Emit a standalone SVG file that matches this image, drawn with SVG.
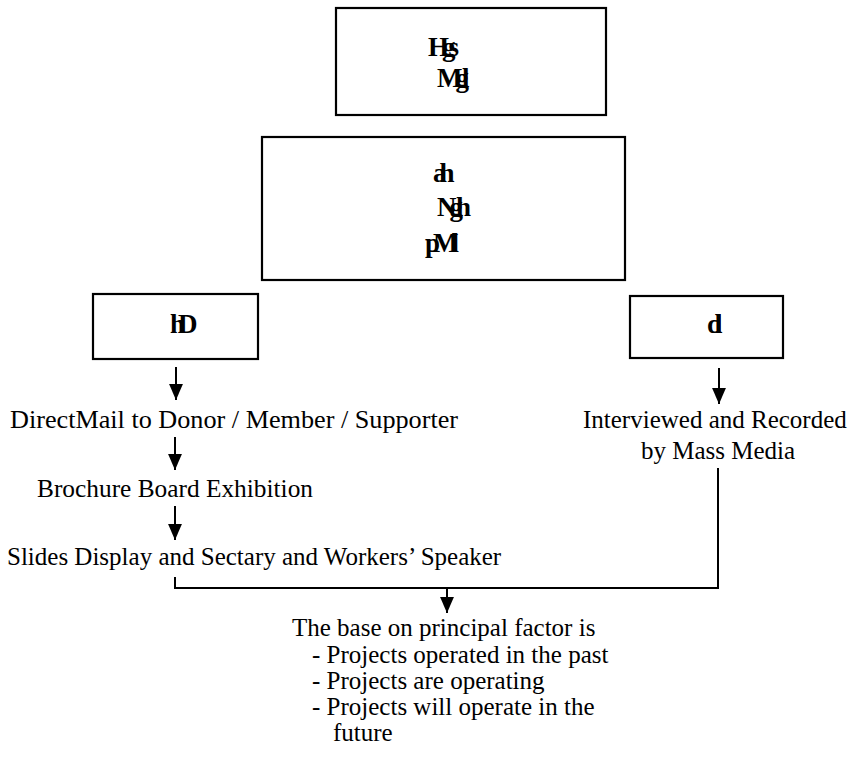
<svg xmlns="http://www.w3.org/2000/svg" width="857" height="773" viewBox="0 0 857 773">
<style>
.box{fill:#fff;stroke:#000;stroke-width:2.2}
.t{font-family:"Liberation Serif","Times New Roman",serif;font-size:25px;fill:#000}
.g{font-family:"Liberation Serif","Times New Roman",serif;font-weight:bold;font-size:27px;fill:#000;letter-spacing:-7px}
.c{fill:none;stroke:#000;stroke-width:2}
</style>
<defs>
<marker id="ah" markerUnits="userSpaceOnUse" markerWidth="16" markerHeight="14" refX="15" refY="6.5" orient="auto" viewBox="0 0 15 13">
<path d="M0 0 L15 6.5 L0 13 Z" fill="#000"/>
</marker>
</defs>
<rect width="857" height="773" fill="#fff"/>
<g id="n1"><rect class="box" x="336" y="8" width="270" height="107"/>
<text class="g" x="428" y="56">Hgs</text><text class="g" x="437" y="87">Mgl</text></g>
<g id="n2"><rect class="box" x="262" y="137" width="363" height="143"/>
<text class="g" x="433" y="182">ah</text><text class="g" x="437" y="216">Ngh</text><text class="g" x="425" y="252">pMl</text></g>
<g id="n3"><rect class="box" x="93" y="294" width="165" height="65"/>
<text class="g" x="170" y="333">hD</text></g>
<g id="n4"><rect class="box" x="630" y="296" width="153" height="62"/>
<text class="g" x="707" y="333">dl</text></g>
<g id="t1"><text class="t" x="10" y="428" textLength="448" lengthAdjust="spacingAndGlyphs">DirectMail to Donor / Member / Supporter</text></g>
<g id="t2"><text class="t" x="37" y="497" textLength="276" lengthAdjust="spacingAndGlyphs">Brochure Board Exhibition</text></g>
<g id="t3"><text class="t" x="7" y="565">Slides Display and Sectary and Workers’ Speaker</text></g>
<g id="t4"><text class="t" x="583" y="428">Interviewed and Recorded</text><text class="t" x="718" y="459" text-anchor="middle">by Mass Media</text></g>
<g id="t5"><text class="t" x="292" y="636">The base on principal factor is</text>
<text class="t" x="312" y="663">- Projects operated in the past</text>
<text class="t" x="312" y="689">- Projects are operating</text>
<text class="t" x="312" y="715">- Projects will operate in the</text>
<text class="t" x="333" y="741">future</text></g>
<g id="connectors">
<path class="c" d="M176 367 V400" marker-end="url(#ah)"/>
<path class="c" d="M175 437 V470" marker-end="url(#ah)"/>
<path class="c" d="M175 506 V540" marker-end="url(#ah)"/>
<path class="c" d="M719 368 V404" marker-end="url(#ah)"/>
<path class="c" d="M175 577 V588 H718 V468"/>
<path class="c" d="M447 588 V613" marker-end="url(#ah)"/>
</g>
</svg>
